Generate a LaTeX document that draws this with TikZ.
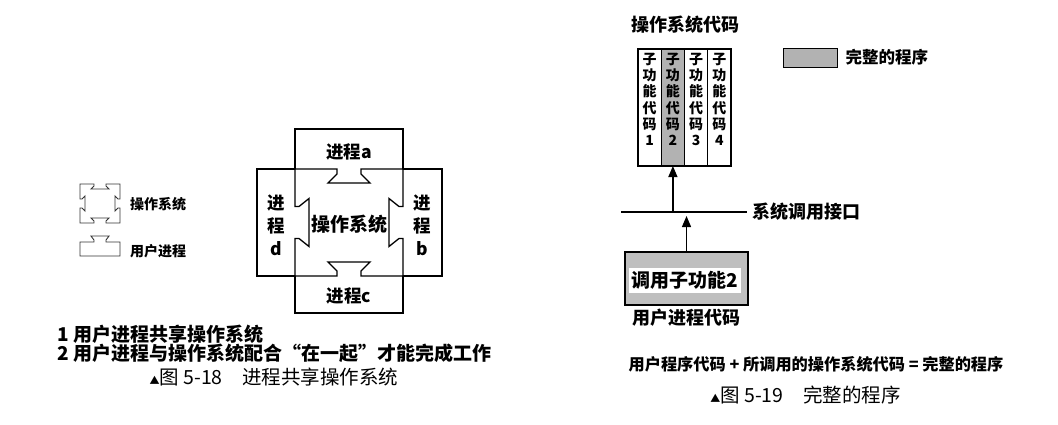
\documentclass[tikz,border=0pt]{standalone}
\usepackage{fontspec}
\setmainfont{Noto Sans CJK SC}
\usetikzlibrary{arrows.meta,positioning}
\tikzset{
  lbl/.style    = {inner sep=0pt, font=\bfseries\fontsize{17.5}{23}\selectfont, align=center},
  big/.style    = {inner sep=0pt, font=\bfseries\fontsize{18}{18}\selectfont},
  legtxt/.style = {inner sep=0pt, font=\bfseries\fontsize{14}{14}\selectfont},
  capt/.style   = {inner sep=0pt, font=\fontsize{19.5}{19.5}\selectfont},
  col/.style    = {draw, line width=1.2pt, minimum width=23.25pt, minimum height=117pt,
                   inner sep=0pt, outer sep=0pt},
  coltxt/.style = {inner sep=0pt, align=center, font=\bfseries\fontsize{14}{16.2}\selectfont},
  ln/.style     = {line width=1.3pt},
  icon/.style   = {line width=0.9pt, draw=black!80},
  e/.style      = {-{Triangle[length=11pt,width=9pt]}, line width=1.3pt}
}
\newcommand{\tri}{{\fontsize{10}{10}\selectfont ▲}}

\begin{document}
\begin{tikzpicture}[x=1pt,y=-1pt]
  \useasboundingbox (0,0) rectangle (1058,424);

  % legend icons
  \draw[icon] (80,184) -- (94,184) -- (94,186) -- (91,189) -- (109,189) -- (106,186) -- (106,184)
    -- (120,184) -- (120,199) -- (118,199) -- (115,196) -- (115,211) -- (118,208) -- (120,208)
    -- (120,223) -- (106,223) -- (106,221) -- (109,218) -- (91,218) -- (94,221) -- (94,223)
    -- (80,223) -- (80,208) -- (82,208) -- (85,211) -- (85,196) -- (82,199) -- (80,199) -- cycle;
  \draw[icon] (80,256) -- (80,242) -- (94,242) -- (94,240) -- (91,236) -- (109,236) -- (106,240)
    -- (106,242) -- (120,242) -- (120,256) -- cycle;
  \node[legtxt, anchor=west] (legos) at (130,204) {操作系统};
  \node[legtxt, anchor=west] (legusr) at (130,251) {用户进程};

  % processes around the os
  \draw[ln] (295,169) -- (295,129) -- (403,129) -- (403,169);
  \draw[ln] (295,276) -- (295,313) -- (403,313) -- (403,276);
  \draw[ln] (295,169) -- (257,169) -- (257,276) -- (295,276);
  \draw[ln] (403,169) -- (442,169) -- (442,276) -- (403,276);
  \draw[ln, line join=miter] (295,169) -- (337,169) -- (337,174) -- (328,183) -- (370,183) -- (361,174)
    -- (361,169) -- (403,169) -- (403,206.5) -- (399,206.5) -- (389,198.5) -- (389,246.5)
    -- (399,238.5) -- (403,238.5) -- (403,276) -- (361,276) -- (361,271) -- (370,262)
    -- (328,262) -- (337,271) -- (337,276) -- (295,276) -- (295,238.5) -- (299,238.5)
    -- (309,246.5) -- (309,198.5) -- (299,206.5) -- (295,206.5) -- cycle;
  \node[lbl] (pa) at (349,152) {进程a};
  \node[lbl] (pc) at (349,296) {进程c};
  \node[lbl] (pd) at (276,225) {进\\程\\d};
  \node[lbl] (pb) at (422,225) {进\\程\\b};
  \node[lbl, font=\bfseries\fontsize{19}{19}\selectfont] (os) at (349,224) {操作系统};

  \node[big, font=\bfseries\fontsize{19}{19}\selectfont, anchor=west] (n1) at (57,334)
    {1 用户进程共享操作系统};
  \node[big, font=\bfseries\fontsize{19}{19}\selectfont, anchor=west] (n2) at (57,353)
    {2 用户进程与操作系统配合“在一起”才能完成工作};
  \node[capt] (cap1) at (274,377) {\tri 图 5-18\quad 进程共享操作系统};

  % os code columns
  \node[big] (oscode) at (685.5,25) {操作系统代码};
  \foreach \i/\x/\c in {1/649.6/white, 2/672.9/black!30, 3/696.1/white, 4/719.4/white} {
    \node[col, fill=\c] (c\i) at (\x,107.5) {};
    \node[coltxt, below=4pt of c\i.north] (t\i) {子\\功\\能\\代\\码\\\i};
  }
  \node[draw, line width=1pt, fill=black!30, minimum width=54pt, minimum height=19pt,
        inner sep=0pt] (legbox) at (810,57.5) {};
  \node[inner sep=0pt, font=\bfseries\fontsize{16.5}{16.5}\selectfont, right=8pt of legbox]
        (legfull) {完整的程序};

  % system call interface
  \coordinate (ifl) at (621,212);
  \coordinate (ifr) at (747,212);
  \draw[ln] (ifl) -- (ifr);
  \node[big, right=5pt of ifr] (iface) {系统调用接口};
  \coordinate (j2) at (c2.south |- ifl);
  \draw[e] (j2) -- (c2.south);

  \node[draw, line width=1.2pt, fill=black!25, minimum width=123pt, minimum height=53pt,
        inner sep=0pt] (call) at (686.5,278.5) {};
  \node[fill=white, inner xsep=3pt, inner ysep=0pt, minimum height=25pt,
        font=\bfseries\fontsize{19}{19}\selectfont] (callt) at (685,280) {调用子功能2};
  \coordinate (j1) at (call.north |- ifl);
  \draw[e, shorten >=4pt] (call.north) -- (j1);
  \node[big, below=3pt of call] (usr) {用户进程代码};

  \node[inner sep=0pt, font=\bfseries\fontsize{16.2}{16.2}\selectfont] (sum) at (816,364)
    {用户程序代码 + 所调用的操作系统代码 = 完整的程序};
  \node[capt] (cap2) at (805.5,395) {\tri 图 5-19\quad 完整的程序};
\end{tikzpicture}
\end{document}
